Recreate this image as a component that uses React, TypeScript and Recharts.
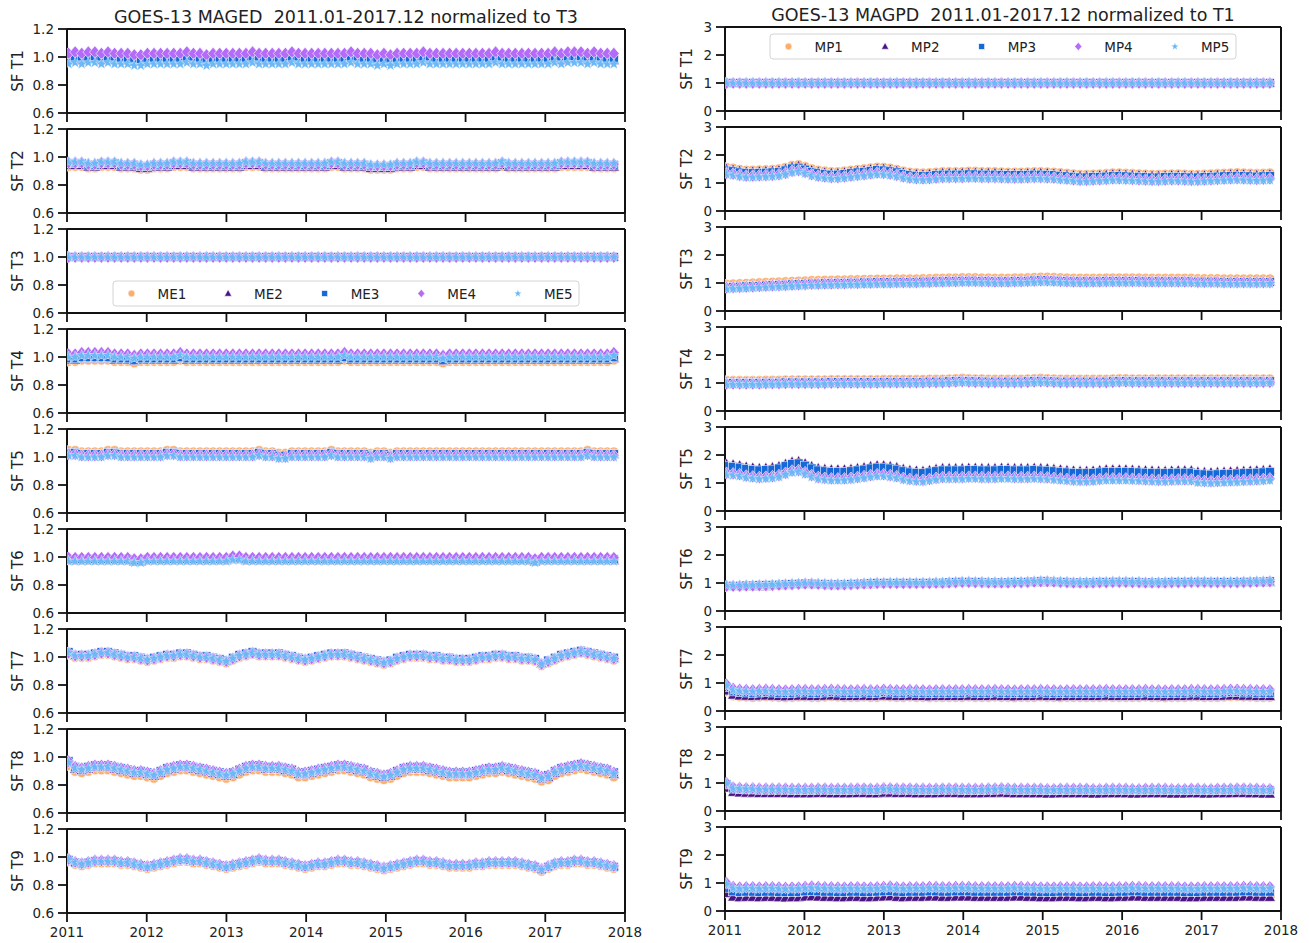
import React from 'react';
import { ScatterChart, Scatter, XAxis, YAxis, ReferenceLine } from 'recharts';

const FONT = '"DejaVu Sans", sans-serif';

const YEAR_TICKS = [2011, 2012, 2013, 2014, 2015, 2016, 2017, 2018];
const ME_TICKS = [0.6, 0.8, 1.0, 1.2];
const MP_TICKS = [0, 1, 2, 3];
const ME_NAMES = ['ME1', 'ME2', 'ME3', 'ME4', 'ME5'];
const MP_NAMES = ['MP1', 'MP2', 'MP3', 'MP4', 'MP5'];
const COLORS = ['#fdae6b', '#4a1486', '#1468d8', '#b46cf8', '#6cb8f6'];
const KINDS = ['circle', 'triangle', 'square', 'diamond', 'star'];

// 84 monthly samples, first and last sample position (decimal year)
const FIRST_T = 2011.02;
const LAST_T = 2017.86;

// ---- MAGED (left), track in 0.01 steps, shift = level of each ME series ----
const L_T1_TRACK = [
  0, 1, 0, 1, 1, 0, 1, 0, 0, 0, -1, -1,
  0, 0, 0, 0, 0, 0, 1, 0, 0, -1, 0, 0,
  0, 0, 0, 0, 1, 0, 0, 0, 0, 0, 1, 0,
  0, 0, 0, 0, 0, 0, 0, 1, 0, 0, 0, -1,
  0, -1, 0, 0, 0, 0, 1, 0, 0, 0, 0, 0,
  0, 0, 0, 0, 0, 1, 0, 0, 0, 0, 0, 0,
  0, 0, 1, 0, 1, 1, 1, 0, 1, 0, 0, 0,
];
const L_T1_SHIFT = [1.0, 0.975, 0.99, 1.025, 0.95];

const L_T2_TRACK = [
  1, 1, 1, 0, 0, 1, 1, 1, 0, 0, 0, -1,
  -1, 0, 0, 0, 1, 1, 1, 0, 0, 0, 0, 0,
  0, 0, 0, 1, 1, 1, 0, 0, 0, 0, 0, 0,
  0, 0, 0, 0, 1, 1, 0, 0, 0, 0, -1, -1,
  -1, -1, 0, 0, 0, 1, 1, 0, 0, 0, 0, 0,
  0, 0, 0, 0, 0, 0, 1, 0, 0, 0, 0, 0,
  0, 0, 0, 1, 1, 1, 1, 1, 0, 0, 0, 0,
];
const L_T2_SHIFT = [0.925, 0.93, 0.945, 0.95, 0.955];

// normalization channel: exactly 1
const L_T3_TRACK = new Array(84).fill(0);
const L_T3_SHIFT = [1, 1, 1, 1, 1];

const L_T4_TRACK = [
  0, 0, 1, 1, 1, 1, 1, 0, 0, 0, -1, 0,
  0, 0, 0, 0, 0, 1, 0, 0, 0, 0, 0, 0,
  0, 0, 0, 0, 0, 0, 0, 0, 0, 0, 0, 0,
  0, 0, 0, 0, 0, 0, 1, 0, 0, 0, 0, 0,
  0, 0, 0, 0, 0, 0, 0, 0, 0, -1, 0, 0,
  0, 0, 0, 0, 0, 0, 0, 0, 0, 0, 0, 0,
  0, 0, 0, 0, 0, 0, 0, 0, 0, 0, 0, 1,
];
const L_T4_SHIFT = [0.97, 0.98, 0.99, 1.02, 1.0];

const L_T5_TRACK = [
  1, 1, 0, 0, 0, 0, 1, 1, 0, 0, 0, 0,
  0, 0, 0, 1, 1, 0, 0, 0, 0, 0, 0, 0,
  0, 0, 0, 0, 0, 1, 0, 0, -1, -1, 0, 0,
  0, 0, 0, 0, 1, 0, 0, 0, 0, 0, -1, 0,
  0, -1, 0, 0, 0, 0, 0, 0, 0, 0, 0, 0,
  0, 0, 0, 0, 0, 0, 0, 0, 0, 0, 0, 0,
  0, 0, 0, 0, 0, 0, 0, 1, 0, 0, 0, 0,
];
const L_T5_SHIFT = [1.035, 1.02, 1.02, 1.01, 1.0];

const L_T6_TRACK = [
  0, 0, 0, 0, 0, 0, 0, 0, 0, 0, -1, -1,
  0, 0, 0, 0, 0, 0, 0, 0, 0, 0, 0, 0,
  0, 1, 1, 0, 0, 0, 0, 0, 0, 0, 0, 0,
  0, 0, 0, 0, 0, 0, 0, 0, 0, 0, 0, 0,
  0, 0, 0, 0, 0, 0, 0, 0, 0, 0, 0, 0,
  0, 0, 0, 0, 0, 0, 0, 0, 0, 0, 0, -1,
  0, 0, 0, 0, 0, 0, 0, 0, 0, 0, 0, 0,
];
const L_T6_SHIFT = [0.98, 0.975, 0.985, 0.995, 0.97];

const L_T7_TRACK = [
  3, 1, 1, 1, 2, 3, 3, 2, 1, 0, 0, -1,
  -2, -1, 0, 1, 1, 2, 2, 1, 0, 0, -1, -2,
  -3, -1, 1, 2, 3, 2, 2, 2, 2, 1, 0, -1,
  -2, -1, 0, 1, 2, 2, 2, 1, 0, -1, -2, -3,
  -4, -3, -1, 0, 1, 1, 1, 0, 0, -1, -1, -2,
  -2, -2, -1, 0, 0, 1, 1, 0, 0, -1, -1, -2,
  -5, -3, -1, 1, 2, 3, 4, 3, 2, 1, 0, -1,
];
const L_T7_SHIFT = [0.99, 1.0, 1.005, 1.0, 1.0];

const L_T8_TRACK = [
  6, 2, 1, 2, 3, 3, 3, 2, 1, 0, -1, -1,
  -2, -3, -1, 1, 2, 3, 3, 2, 1, 0, -1, -2,
  -3, -2, 0, 2, 3, 3, 2, 2, 2, 1, 0, -2,
  -2, -1, 0, 1, 2, 3, 3, 2, 1, 0, -2, -3,
  -4, -3, -1, 1, 2, 2, 2, 1, 0, -1, -2, -2,
  -2, -2, -1, 0, 1, 1, 2, 1, 0, -1, -2, -3,
  -5, -4, -1, 1, 2, 3, 4, 3, 2, 1, 0, -2,
];
const L_T8_SHIFT = [0.88, 0.895, 0.91, 0.91, 0.9];

const L_T9_TRACK = [
  3, 1, 0, 1, 2, 2, 2, 2, 1, 1, 0, -1,
  -2, -1, 0, 1, 2, 3, 3, 2, 2, 1, 0, -1,
  -2, -1, 0, 1, 2, 3, 2, 2, 2, 1, 0, -1,
  -2, -1, 0, 0, 1, 2, 2, 1, 1, 0, -1, -2,
  -3, -2, -1, 0, 1, 2, 2, 1, 1, 0, -1, -1,
  -1, -1, 0, 0, 1, 1, 1, 1, 1, 0, -1, -2,
  -4, -2, 0, 1, 1, 2, 2, 1, 1, 0, -1, -2,
];
const L_T9_SHIFT = [0.94, 0.955, 0.95, 0.955, 0.95];

// ---- MAGPD (right) ----
const R_T1_TRACK = new Array(84).fill(0);
const R_T1_SHIFT = [1, 1, 1, 1, 1];

// MP3 level in 0.01 steps, shift = offset of each MP series from MP3
const R_T2_TRACK = [
  145, 142, 138, 135, 135, 136, 137, 138, 140, 145, 152, 155,
  148, 140, 135, 132, 130, 130, 132, 135, 138, 140, 143, 146,
  145, 142, 138, 132, 128, 126, 125, 126, 128, 130, 130, 130,
  130, 131, 131, 130, 130, 130, 129, 128, 128, 128, 129, 130,
  130, 129, 128, 126, 124, 122, 120, 120, 121, 122, 123, 125,
  125, 124, 123, 122, 121, 120, 120, 121, 122, 122, 121, 120,
  120, 121, 122, 123, 124, 125, 126, 125, 124, 123, 124, 125,
];
const R_T2_SHIFT = [0.1, 0.05, 0, -0.1, -0.14];

const R_T3_TRACK = [
  85, 86, 87, 88, 89, 90, 91, 92, 93, 94, 95, 96,
  97, 98, 98, 99, 99, 100, 100, 101, 101, 102, 102, 103,
  103, 103, 104, 104, 104, 104, 105, 105, 106, 106, 107, 107,
  108, 108, 108, 107, 107, 106, 106, 106, 107, 107, 108, 109,
  110, 110, 109, 108, 107, 106, 106, 106, 106, 106, 107, 107,
  107, 107, 107, 107, 106, 106, 106, 106, 106, 106, 106, 106,
  105, 105, 105, 105, 104, 104, 104, 104, 104, 104, 104, 104,
];
const R_T3_SHIFT = [0.1, 0.02, 0, -0.02, -0.06];

const R_T4_TRACK = [
  100, 100, 100, 100, 100, 100, 101, 101, 101, 102, 102, 102,
  102, 102, 102, 102, 103, 103, 103, 103, 103, 103, 103, 103,
  104, 104, 104, 104, 104, 104, 104, 105, 105, 105, 106, 107,
  108, 107, 106, 106, 105, 105, 105, 105, 105, 105, 106, 107,
  108, 107, 106, 105, 105, 105, 105, 105, 105, 105, 105, 106,
  107, 107, 106, 106, 106, 106, 106, 106, 106, 106, 106, 106,
  106, 106, 106, 106, 106, 106, 106, 106, 106, 106, 106, 106,
];
const R_T4_SHIFT = [0.08, 0.03, 0, -0.03, -0.05];

const R_T5_TRACK = [
  160, 158, 155, 150, 147, 145, 146, 148, 152, 160, 168, 170,
  162, 152, 145, 142, 140, 140, 140, 142, 145, 148, 152, 155,
  155, 152, 148, 142, 138, 136, 135, 138, 142, 145, 145, 145,
  145, 146, 146, 145, 145, 145, 146, 146, 145, 145, 145, 146,
  145, 144, 142, 140, 138, 136, 135, 135, 136, 138, 140, 140,
  140, 140, 139, 138, 137, 136, 135, 135, 136, 137, 137, 137,
  132, 131, 130, 131, 132, 133, 134, 135, 136, 137, 138, 140,
];
const R_T5_SHIFT = [0.03, 0.07, 0, -0.25, -0.3];

const R_T6_TRACK = [
  90, 90, 90, 91, 91, 92, 92, 93, 94, 95, 96, 97,
  98, 98, 97, 96, 95, 95, 95, 96, 97, 98, 99, 100,
  100, 100, 100, 100, 100, 100, 100, 100, 101, 101, 102, 103,
  104, 104, 103, 103, 102, 102, 102, 102, 103, 103, 104, 105,
  106, 106, 105, 104, 103, 102, 102, 102, 102, 103, 103, 104,
  104, 104, 103, 103, 102, 102, 102, 102, 103, 103, 103, 104,
  104, 104, 103, 103, 103, 103, 103, 104, 104, 105, 105, 106,
];
const R_T6_SHIFT = [-0.02, -0.03, 0, -0.01, 0.02];

// deviations in 0.01 steps, shift = level of each MP series
const R_T7_TRACK = [
  20, 5, 2, 1, 0, 1, 2, 1, 0, -1, 0, 1,
  1, 0, 0, 1, 2, 1, 0, 0, 0, 1, 0, 0,
  2, 1, 0, 0, 1, 0, 0, -1, 0, 0, 0, 0,
  0, 1, 0, 0, 0, 1, 0, 0, -1, 0, 0, 0,
  1, 0, 0, -1, 0, 0, 0, 0, 0, 0, 1, 0,
  0, 0, 0, 0, 1, 0, 0, -1, 0, 0, 0, 1,
  1, 0, 0, 0, 1, 2, 2, 1, 1, 0, 0, 0,
];
const R_T7_SHIFT = [0.5, 0.52, 0.65, 0.75, 0.7];

const R_T8_TRACK = [
  20, 5, 3, 2, 2, 1, 1, 1, 1, 1, 0, 0,
  0, 0, 1, 1, 0, 0, 0, 0, 1, 1, 0, 0,
  2, 2, 1, 1, 1, 0, 0, 0, 0, 1, 1, 1,
  0, 0, 0, 0, 1, 1, 2, 1, 0, 0, 0, 0,
  0, -1, -1, 0, 0, 0, 0, 0, -1, -1, 0, 0,
  0, 0, -1, -1, 0, 0, 0, 0, -1, -1, -1, 0,
  0, -1, -1, 0, 0, 0, 1, 1, 0, 0, -1, -1,
];
const R_T8_SHIFT = [0.7, 0.62, 0.75, 0.8, 0.77];

const R_T9_TRACK = [
  15, 2, 0, 1, 1, 0, 1, 1, 0, -1, 0, 0,
  2, 3, 2, 1, 1, 0, 0, 1, 1, 0, 0, 1,
  2, 3, 1, 0, 1, 1, 1, 2, 2, 1, 1, 2,
  2, 2, 1, 1, 1, 1, 1, 1, 2, 2, 1, 1,
  0, 0, 0, 1, 1, 1, 0, 0, 1, 1, 0, 0,
  1, 1, 2, 2, 1, 1, 1, 1, 1, 1, 0, 0,
  0, 1, 1, 1, 1, 1, 1, 2, 2, 1, 1, 1,
];
const R_T9_SHIFT = [0.5, 0.48, 0.68, 0.85, 0.8];

const LEFT_PANELS = [
  { label: 'SF T1', track: L_T1_TRACK, shift: L_T1_SHIFT },
  { label: 'SF T2', track: L_T2_TRACK, shift: L_T2_SHIFT },
  { label: 'SF T3', track: L_T3_TRACK, shift: L_T3_SHIFT },
  { label: 'SF T4', track: L_T4_TRACK, shift: L_T4_SHIFT },
  { label: 'SF T5', track: L_T5_TRACK, shift: L_T5_SHIFT },
  { label: 'SF T6', track: L_T6_TRACK, shift: L_T6_SHIFT },
  { label: 'SF T7', track: L_T7_TRACK, shift: L_T7_SHIFT },
  { label: 'SF T8', track: L_T8_TRACK, shift: L_T8_SHIFT },
  { label: 'SF T9', track: L_T9_TRACK, shift: L_T9_SHIFT },
];

const RIGHT_PANELS = [
  { label: 'SF T1', track: R_T1_TRACK, shift: R_T1_SHIFT },
  { label: 'SF T2', track: R_T2_TRACK, shift: R_T2_SHIFT },
  { label: 'SF T3', track: R_T3_TRACK, shift: R_T3_SHIFT },
  { label: 'SF T4', track: R_T4_TRACK, shift: R_T4_SHIFT },
  { label: 'SF T5', track: R_T5_TRACK, shift: R_T5_SHIFT },
  { label: 'SF T6', track: R_T6_TRACK, shift: R_T6_SHIFT },
  { label: 'SF T7', track: R_T7_TRACK, shift: R_T7_SHIFT },
  { label: 'SF T8', track: R_T8_TRACK, shift: R_T8_SHIFT },
  { label: 'SF T9', track: R_T9_TRACK, shift: R_T9_SHIFT },
];

const monthTime = (m: number, n: number) => FIRST_T + ((LAST_T - FIRST_T) * m) / (n - 1);

const buildSeries = (track: number[], shift: number[]) =>
  shift.map((s) => track.map((v, m) => ({ x: monthTime(m, track.length), y: v / 100 + s })));

// layout
const Y_AXIS_W = 60;
const X_AXIS_H = 32;
const TOP_PAD = 14;
const RIGHT_PAD = 24;
const PLOT_H = 84;
const LEFT_COL = { x: 67, w: 558, top: 29 };
const RIGHT_COL = { x: 725, w: 556, top: 27 };
const ROW_STEP = 100;
const MARK_K = 1.2;

const starPoints = (cx: number, cy: number, r: number) => {
  const pts: string[] = [];
  for (let i = 0; i < 10; i++) {
    const rr = i % 2 === 0 ? r : r * 0.42;
    const a = -Math.PI / 2 + (i * Math.PI) / 5;
    pts.push(`${cx + rr * Math.cos(a)},${cy + rr * Math.sin(a)}`);
  }
  return pts.join(' ');
};

const Mark = ({ kind, cx, cy, color, k = 1 }: any) => {
  const sw = 0.6;
  if (kind === 'circle') return <circle cx={cx} cy={cy} r={4.3 * k} fill={color} stroke="#fff" strokeWidth={sw} />;
  if (kind === 'triangle')
    return (
      <polygon
        points={`${cx},${cy - 5 * k} ${cx + 4.6 * k},${cy + 3.4 * k} ${cx - 4.6 * k},${cy + 3.4 * k}`}
        fill={color}
        stroke="#fff"
        strokeWidth={sw}
      />
    );
  if (kind === 'square')
    return <rect x={cx - 3.7 * k} y={cy - 3.7 * k} width={7.4 * k} height={7.4 * k} fill={color} stroke="#fff" strokeWidth={sw} />;
  if (kind === 'diamond')
    return (
      <polygon
        points={`${cx},${cy - 5.2 * k} ${cx + 4.5 * k},${cy} ${cx},${cy + 5.2 * k} ${cx - 4.5 * k},${cy}`}
        fill={color}
        stroke="#fff"
        strokeWidth={sw}
      />
    );
  return <polygon points={starPoints(cx, cy, 5 * k)} fill={color} stroke="#fff" strokeWidth={sw * 0.6} />;
};

const shapeFor = (s: number) => (p: any) => <Mark kind={KINDS[s]} color={COLORS[s]} cx={p.cx} cy={p.cy} k={MARK_K} />;
const SHAPE_FNS = [0, 1, 2, 3, 4].map(shapeFor);

const axisLine = { stroke: '#111', strokeWidth: 2 };
const tickLine = { stroke: '#111', strokeWidth: 1.8 };
const tickStyle = { fontSize: 13.5, fill: '#222', fontFamily: FONT };

const Panel = ({ col, row, track, shift, yTicks, yDomain, names }: any) => {
  const series = buildSeries(track, shift);
  const bottom = row === 8;
  const plotTop = col.top + row * ROW_STEP;
  const width = Y_AXIS_W + col.w + RIGHT_PAD;
  const height = TOP_PAD + PLOT_H + X_AXIS_H;
  return (
    <div style={{ position: 'absolute', left: col.x - Y_AXIS_W, top: plotTop - TOP_PAD, width, height }}>
      <ScatterChart width={width} height={height} margin={{ top: TOP_PAD, right: RIGHT_PAD, bottom: 0, left: 0 }}>
        <XAxis
          type="number"
          dataKey="x"
          domain={[2011, 2018]}
          ticks={YEAR_TICKS}
          interval={0}
          allowDataOverflow
          height={X_AXIS_H}
          tickSize={9}
          tickMargin={5}
          axisLine={axisLine}
          tickLine={tickLine}
          tick={tickStyle}
          tickFormatter={(v: number) => (bottom ? String(v) : '')}
        />
        <YAxis
          type="number"
          dataKey="y"
          domain={yDomain}
          ticks={yTicks}
          interval={0}
          allowDataOverflow
          width={Y_AXIS_W}
          tickSize={9}
          tickMargin={4}
          axisLine={axisLine}
          tickLine={tickLine}
          tick={tickStyle}
          tickFormatter={(v: number) => (yDomain[1] < 2 ? v.toFixed(1) : String(v))}
        />
        {series.map((d, s) => (
          <Scatter key={names[s]} name={names[s]} data={d} shape={SHAPE_FNS[s]} isAnimationActive={false} />
        ))}
        <ReferenceLine y={yDomain[1]} stroke="#111" strokeWidth={2} />
        <ReferenceLine x={2018} stroke="#111" strokeWidth={2} />
      </ScatterChart>
    </div>
  );
};

const LegendBox = ({ x, y, names }: any) => {
  const w = 466;
  const h = 25;
  const step = 96.6;
  return (
    <g>
      <rect x={x} y={y} width={w} height={h} rx={3} fill="#fff" fillOpacity={0.85} stroke="#d4d4d4" strokeWidth={1} />
      {names.map((n: string, i: number) => (
        <g key={n}>
          <Mark kind={KINDS[i]} color={COLORS[i]} cx={x + 18.5 + i * step} cy={y + h / 2} k={0.8} />
          <text x={x + 44.5 + i * step} y={y + h / 2 + 5} fontSize={13.5} fill="#222" fontFamily={FONT}>
            {n}
          </text>
        </g>
      ))}
    </g>
  );
};

export default function App() {
  return (
    <div style={{ position: 'absolute', left: 0, top: 0, width: 1309, height: 943, background: '#fff', overflow: 'hidden' }}>
      {LEFT_PANELS.map((p, r) => (
        <Panel key={'l' + r} col={LEFT_COL} row={r} track={p.track} shift={p.shift} yTicks={ME_TICKS} yDomain={[0.6, 1.2]} names={ME_NAMES} />
      ))}
      {RIGHT_PANELS.map((p, r) => (
        <Panel key={'r' + r} col={RIGHT_COL} row={r} track={p.track} shift={p.shift} yTicks={MP_TICKS} yDomain={[0, 3]} names={MP_NAMES} />
      ))}
      <svg width={1309} height={943} style={{ position: 'absolute', left: 0, top: 0, pointerEvents: 'none' }}>
        <text x={LEFT_COL.x + LEFT_COL.w / 2} y={23} textAnchor="middle" fontSize={17.5} fill="#222" fontFamily={FONT} style={{ whiteSpace: 'pre' }}>
          GOES-13 MAGED  2011.01-2017.12 normalized to T3
        </text>
        <text x={RIGHT_COL.x + RIGHT_COL.w / 2} y={21} textAnchor="middle" fontSize={17.5} fill="#222" fontFamily={FONT} style={{ whiteSpace: 'pre' }}>
          GOES-13 MAGPD  2011.01-2017.12 normalized to T1
        </text>
        {LEFT_PANELS.map((p, r) => {
          const cy = LEFT_COL.top + r * ROW_STEP + PLOT_H / 2;
          return (
            <text key={'ll' + r} x={0} y={0} transform={`translate(23,${cy}) rotate(-90)`} textAnchor="middle" fontSize={15} fill="#222" fontFamily={FONT}>
              {p.label}
            </text>
          );
        })}
        {RIGHT_PANELS.map((p, r) => {
          const cy = RIGHT_COL.top + r * ROW_STEP + PLOT_H / 2;
          return (
            <text key={'rl' + r} x={0} y={0} transform={`translate(692,${cy}) rotate(-90)`} textAnchor="middle" fontSize={15} fill="#222" fontFamily={FONT}>
              {p.label}
            </text>
          );
        })}
        <LegendBox x={113} y={281} names={ME_NAMES} />
        <LegendBox x={770} y={34} names={MP_NAMES} />
      </svg>
    </div>
  );
}
